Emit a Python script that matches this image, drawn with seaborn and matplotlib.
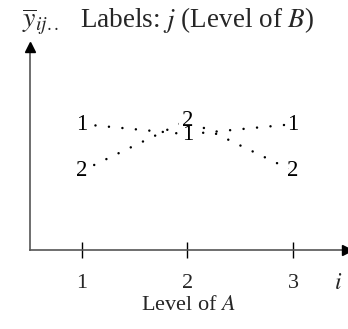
import matplotlib
matplotlib.use("Agg")
import matplotlib.pyplot as plt
import matplotlib.patheffects as pe
import numpy as np
import pandas as pd
import seaborn as sns

# Cell means of the two-factor layout
levels_A = [1, 2, 3]
means_B1 = [6.2, 5.7, 6.2]
means_B2 = [3.9, 6.4, 3.9]
labels_B = ["1", "2"]

sns.set_theme(style="white")
plt.rcParams["font.family"] = ["Liberation Serif", "DejaVu Serif"]
plt.rcParams["mathtext.fontset"] = "stix"

df = pd.DataFrame({
    "A": levels_A * 2,
    "mean": means_B1 + means_B2,
    "B": [labels_B[0]] * 3 + [labels_B[1]] * 3,
})

fig = plt.figure(figsize=(3.48, 3.29), dpi=100)
ax = fig.add_axes([30 / 348, 1 - 250 / 329, 317 / 348, 203 / 329])

sns.lineplot(data=df, x="A", y="mean", hue="B", palette=["black", "black"],
             legend=False, ax=ax, linewidth=1.8,
             linestyle=(0, (0.01, 5.4)), dash_capstyle="round")

# level labels of B as point markers, with a white halo that clears the dots
halo = [pe.withStroke(linewidth=6, foreground="white")]
for _, row in df.iterrows():
    ax.text(row["A"], row["mean"], row["B"], ha="center", va="center",
            fontsize=16.5, color="white", path_effects=halo, zorder=5)
for _, row in df.iterrows():
    ax.text(row["A"], row["mean"], row["B"], ha="center", va="center",
            fontsize=16.5, color="black", zorder=6)

ax.set_xlim(0.507, 3.512)
ax.set_ylim(0, 10)
ax.set_xticks(levels_A)
ax.set_xticklabels([str(v) for v in levels_A], fontsize=16)
ax.set_yticks([])
ax.tick_params(axis="x", direction="inout", length=11, width=1,
               color="black", pad=12, bottom=True)
ax.set_xlabel("Level of $A$", fontsize=16, labelpad=2)
ax.set_ylabel("")

for side in ["top", "right"]:
    ax.spines[side].set_visible(False)
for side in ["left", "bottom"]:
    ax.spines[side].set_color("#555555")
    ax.spines[side].set_linewidth(1.2)

# axis arrow heads
ax.plot(1, 0, ">", color="black", markersize=7, transform=ax.transAxes,
        clip_on=False, zorder=7)
ax.plot(0, 1, "^", color="black", markersize=7, transform=ax.transAxes,
        clip_on=False, zorder=7)

ax.text(3.43, -0.165, "$i$", transform=ax.get_xaxis_transform(),
        ha="center", va="center", fontsize=17)

fig.text(22 / 348, 1 - 27 / 329, r"$\overline{y}_{ij..}$", fontsize=20,
         ha="left", va="baseline")
fig.text(80 / 348, 1 - 27 / 329, "Labels: $j$ (Level of $B$)", fontsize=19.5,
         ha="left", va="baseline")

fig.savefig("out.png", dpi=100)
